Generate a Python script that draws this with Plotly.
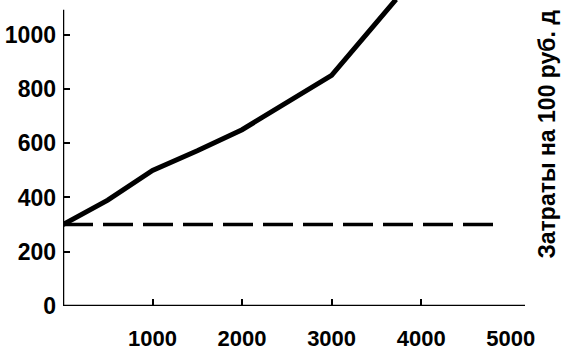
import plotly.graph_objects as go

# Data
x_solid = [0, 500, 1000, 1500, 2000, 2500, 3000, 3500, 3720]
y_solid = [300, 390, 500, 572, 650, 750, 850, 1045, 1130]
x_dashed = [0, 4880]
y_dashed = [300, 300]
x_tick_marks = [1000, 2000, 3000, 4000]
x_tick_labels = [1000, 2000, 3000, 4000, 5000]
y_ticks = [0, 200, 400, 600, 800, 1000]
right_label = "Затраты на 100 руб. д"

X_MAX = 5160
Y_MAX = 1128
Y_AXIS_TOP = 1092

font = dict(family="Liberation Sans, Arial, sans-serif", size=22, color="black", weight="bold")

fig = go.Figure()
fig.add_trace(go.Scatter(x=x_solid, y=y_solid, mode="lines",
                         line=dict(color="black", width=5), showlegend=False,
                         cliponaxis=True))
fig.add_trace(go.Scatter(x=x_dashed, y=y_dashed, mode="lines",
                         line=dict(color="black", width=3.5, dash="30px,10px"),
                         showlegend=False))
# invisible trace on the label axis
fig.add_trace(go.Scatter(x=[0], y=[0], xaxis="x2", mode="markers",
                         marker=dict(opacity=0), showlegend=False, hoverinfo="skip"))

# axis lines
fig.add_shape(type="line", x0=0, x1=0, y0=0, y1=Y_AXIS_TOP, xref="x", yref="y",
              line=dict(color="black", width=2.5))
fig.add_shape(type="line", x0=0, x1=X_MAX, y0=0, y1=0, xref="x", yref="y",
              line=dict(color="black", width=2.5))

fig.add_annotation(text=right_label, textangle=-90, xref="paper", yref="paper",
                   x=1.047, y=0.149, xanchor="center", yanchor="bottom",
                   showarrow=False, font=dict(font, size=23))

fig.update_layout(
    width=569, height=351,
    margin=dict(l=63, r=44, t=0, b=43),
    paper_bgcolor="white", plot_bgcolor="white",
    font=font,
    xaxis=dict(range=[0, X_MAX], tickvals=x_tick_marks, showticklabels=False,
               ticks="inside", ticklen=7, tickwidth=2, tickcolor="black",
               showgrid=False, zeroline=False, showline=False),
    xaxis2=dict(range=[0, X_MAX], overlaying="x", side="bottom",
                tickvals=x_tick_labels, ticktext=[str(v) for v in x_tick_labels],
                ticks="", ticklabelstandoff=17, tickfont=dict(font, size=22),
                showgrid=False, zeroline=False, showline=False),
    yaxis=dict(range=[0, Y_MAX], tickvals=y_ticks, ticktext=[str(v) for v in y_ticks],
               ticks="inside", ticklen=7, tickwidth=2, tickcolor="black",
               ticklabelstandoff=6, tickfont=dict(font, size=23),
               showgrid=False, zeroline=False, showline=False),
)

fig.write_html("out.html")
